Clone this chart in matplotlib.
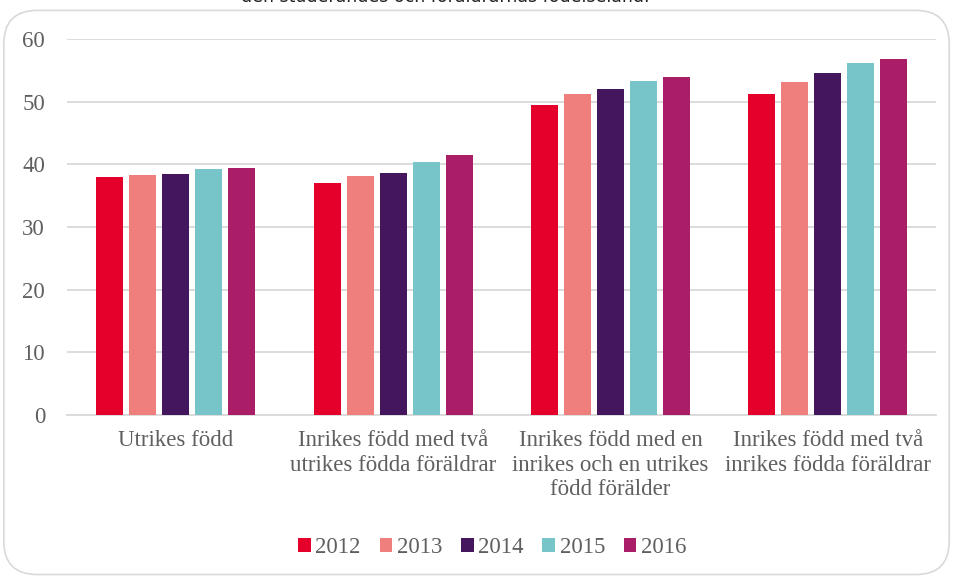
import numpy as np
import matplotlib.pyplot as plt
from matplotlib.patches import FancyBboxPatch

categories = ["Utrikes född",
              "Inrikes född med två\nutrikes födda föräldrar",
              "Inrikes född med en\ninrikes och en utrikes\nfödd förälder",
              "Inrikes född med två\ninrikes födda föräldrar"]
years = ["2012", "2013", "2014", "2015", "2016"]
values = {
    "2012": [38.0, 37.0, 49.5, 51.3],
    "2013": [38.3, 38.1, 51.2, 53.2],
    "2014": [38.5, 38.6, 52.0, 54.6],
    "2015": [39.3, 40.4, 53.3, 56.1],
    "2016": [39.4, 41.5, 54.0, 56.8],
}
colors = ["#E4002B", "#EE7F7C", "#43165E", "#77C5C8", "#A91E66"]

plt.rcParams['font.family'] = ['Liberation Serif', 'DejaVu Serif']
grey = "#5F5F5F"

fig = plt.figure(figsize=(9.54, 5.78), dpi=100)
ax = fig.add_axes([0.0705, 0.282, 0.911, 0.6505])

x = np.arange(len(categories))
step = 0.152
width = 0.124
for i, yr in enumerate(years):
    ax.bar(x + (i - 2) * step, values[yr], width, color=colors[i], label=yr, zorder=3)

ax.set_xlim(-0.5, 3.5)
ax.set_ylim(0, 60)
ax.set_yticks(range(0, 61, 10))
ax.yaxis.grid(True, color="#D9D9D9", linewidth=1.3, zorder=0)
for s in ["top", "right", "left"]:
    ax.spines[s].set_visible(False)
ax.spines["bottom"].set_color("#D9D9D9")
ax.spines["bottom"].set_linewidth(1.3)
ax.tick_params(axis="both", length=0, colors=grey, labelsize=16.5)
ax.tick_params(axis="y", pad=16)
ax.tick_params(axis="x", pad=11)
ax.set_xticks(x)
ax.set_xticklabels(categories, linespacing=1.22)

fig.legend(loc="center", bbox_to_anchor=(0.516, 0.052), ncol=5, frameon=False,
           fontsize=16.5, handlelength=0.55, handleheight=0.55, handletextpad=0.2,
           columnspacing=0.82, labelcolor=grey)

frame = FancyBboxPatch((0.004, 0.006), 0.991, 0.976, boxstyle="round,pad=0,rounding_size=0.035",
                       transform=fig.transFigure, fill=False, edgecolor="#D9D9D9",
                       linewidth=1.2, mutation_aspect=9.54 / 5.78)
fig.patches.append(frame)

fig.text(0.467, 1.005, "den studerandes och föräldrarnas födelseland.", ha="center", va="center",
         fontsize=12.5, family=["DejaVu Sans"], color="#222222")

fig.savefig("out.png", dpi=100)
